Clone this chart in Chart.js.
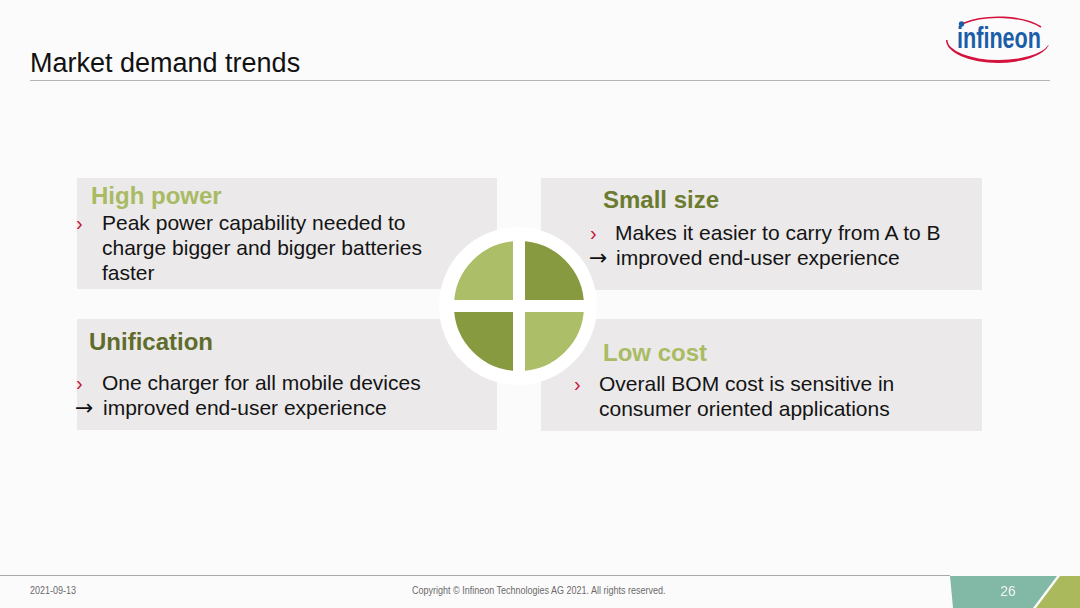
<!DOCTYPE html>
<html>
<head>
<meta charset="utf-8">
<script src="https://cdn.jsdelivr.net/npm/chart.js@4.4.1/dist/chart.umd.min.js"></script>
<style>
  html, body { margin: 0; padding: 0; }
  body {
    width: 1080px; height: 608px; position: relative; overflow: hidden;
    background: #fcfbfc; font-family: "Liberation Sans", Arial, sans-serif; color: #141414;
  }
  .abs { position: absolute; white-space: nowrap; }
  .title { left: 30px; top: 47px; font-size: 27px; line-height: 32px; color: #111; }
  .rule { left: 30px; top: 80px; width: 1020px; height: 1px; background: #b4b4b4; }
  .box { position: absolute; background: #ebe9ea; }
  .head { position: absolute; white-space: nowrap; font-size: 24px; line-height: 28px; font-weight: bold; }
  .txt { position: absolute; white-space: nowrap; font-size: 21px; line-height: 25px; }
  .bul { position: absolute; white-space: nowrap; font-size: 20px; line-height: 25px; color: #c8103e; }
  .arr { position: absolute; white-space: nowrap; font-family: "DejaVu Sans", sans-serif; font-size: 22px; line-height: 25px; color: #111; }
  #ring { position: absolute; left: 439px; top: 227px; width: 158px; height: 158px; border-radius: 50%; background: #ffffff; }
  #pieWrap { position: absolute; left: 439px; top: 226px; width: 160px; height: 160px; }
  .foot { position: absolute; white-space: nowrap; font-size: 10px; color: #6a6a6a; transform-origin: 0 0; transform: scaleX(0.9); }
</style>
</head>
<body>
  <div class="abs title">Market demand trends</div>
  <div class="abs rule"></div>

  <svg class="abs" style="left:0;top:0" width="1080" height="80">
    <path d="M946 40 A52 23 0 0 0 998 63 A52 23 0 0 0 1049 45 L1048 45.5 A51 20 0 0 1 998 60 A51 20 0 0 1 947.5 40 Z" fill="#d3123d"/>
    <path d="M963 23.5 A52 23 0 0 1 1041 27" fill="none" stroke="#d3123d" stroke-width="1.6"/>
    <circle cx="961.5" cy="24" r="2.7" fill="#1b5ea8"/>
    <text x="957" y="48" font-family="Liberation Sans, sans-serif" font-size="29" font-weight="bold" fill="#1b5ea8" textLength="84" lengthAdjust="spacingAndGlyphs">infineon</text>
  </svg>

  <div class="box" style="left:77px;top:178px;width:420px;height:111px"></div>
  <div class="box" style="left:541px;top:178px;width:441px;height:112px"></div>
  <div class="box" style="left:77px;top:319px;width:420px;height:111px"></div>
  <div class="box" style="left:541px;top:319px;width:441px;height:112px"></div>

  <!-- High power -->
  <div class="head" style="left:91px;top:182px;color:#a9bb62">High power</div>
  <div class="bul" style="left:76px;top:210.5px">›</div>
  <div class="txt" style="left:102px;top:210px">Peak power capability needed to</div>
  <div class="txt" style="left:102px;top:235px">charge bigger and bigger batteries</div>
  <div class="txt" style="left:102px;top:260px">faster</div>

  <!-- Small size -->
  <div class="head" style="left:603px;top:186px;color:#6b7c2f">Small size</div>
  <div class="bul" style="left:590px;top:220.5px">›</div>
  <div class="txt" style="left:615px;top:220px">Makes it easier to carry from A to B</div>
  <div class="arr" style="left:589px;top:245px">→</div>
  <div class="txt" style="left:616px;top:245px">improved end-user experience</div>

  <!-- Unification -->
  <div class="head" style="left:89px;top:328px;color:#606c2b">Unification</div>
  <div class="bul" style="left:76px;top:370.5px">›</div>
  <div class="txt" style="left:102px;top:370px">One charger for all mobile devices</div>
  <div class="arr" style="left:75px;top:395px">→</div>
  <div class="txt" style="left:103px;top:395px">improved end-user experience</div>

  <!-- Low cost -->
  <div class="head" style="left:603px;top:338.5px;color:#a9bb63">Low cost</div>
  <div class="bul" style="left:574px;top:371.5px">›</div>
  <div class="txt" style="left:599px;top:371px">Overall BOM cost is sensitive in</div>
  <div class="txt" style="left:599px;top:396px">consumer oriented applications</div>

  <div id="ring"></div>
  <div id="pieWrap"><canvas id="pie"></canvas></div>

  <!-- footer -->
  <div class="abs" style="left:0;top:575px;width:950px;height:1px;background:#a8a8a8"></div>
  <div class="foot" style="left:30px;top:585px">2021-09-13</div>
  <div class="foot" style="left:412px;top:585px">Copyright © Infineon Technologies AG 2021. All rights reserved.</div>
  <div class="abs" style="left:0;top:0;width:1080px;height:608px;pointer-events:none">
    <div style="position:absolute;left:0;top:0;width:1080px;height:608px;background:#82b9a6;clip-path:polygon(950px 576px,1057px 576px,1033px 608px,953px 608px)"></div>
    <div style="position:absolute;left:0;top:0;width:1080px;height:608px;background:#a9b95b;clip-path:polygon(1060px 576px,1080px 576px,1080px 608px,1036px 608px)"></div>
  </div>
  <div class="abs" style="left:990px;top:582px;width:36px;text-align:center;font-size:14px;line-height:18px;color:#f2f2f2">26</div>

<script>
// quadrants of the central circle, clockwise from the top-right
const categories = ['Small size', 'Low cost', 'Unification', 'High power'];
const shares = [25, 25, 25, 25];
const quadrantColors = ['#889a40', '#adbe68', '#889a40', '#adbe68'];

new Chart(document.getElementById('pie'), {
  type: 'pie',
  data: {
    labels: categories,
    datasets: [{
      data: shares,
      backgroundColor: quadrantColors,
      borderColor: '#ffffff',
      borderWidth: 12,
      radius: 71
    }]
  },
  options: {
    responsive: true,
    maintainAspectRatio: false,
    animation: false,
    layout: { padding: 0 },
    plugins: {
      legend: { display: false },
      tooltip: { enabled: false }
    }
  }
});
</script>
</body>
</html>
